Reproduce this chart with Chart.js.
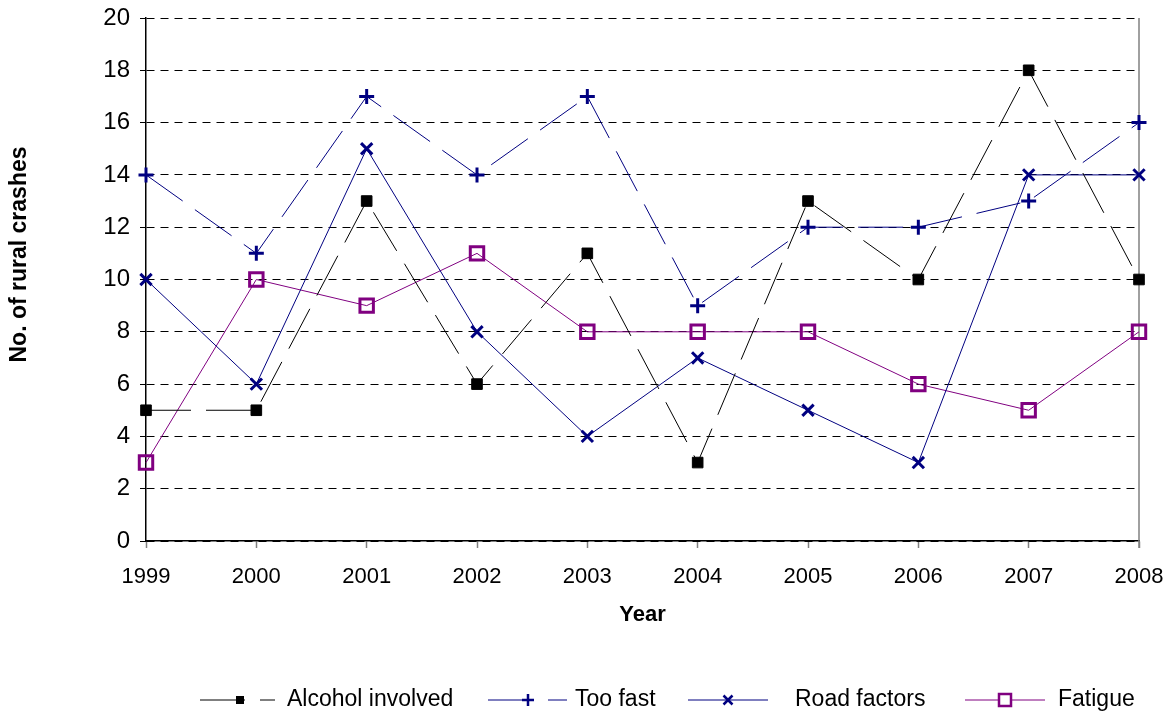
<!DOCTYPE html>
<html>
<head>
<meta charset="utf-8">
<script src="https://cdn.jsdelivr.net/npm/chart.js@4/dist/chart.umd.min.js"></script>
<style>
  html, body { margin: 0; padding: 0; background: #fff; }
  canvas { display: block; }
</style>
</head>
<body>
<canvas id="crashChart" width="1173" height="717"></canvas>
<script>
const years = ['1999', '2000', '2001', '2002', '2003', '2004', '2005', '2006', '2007', '2008'];
const alcohol = [5, 5, 13, 6, 11, 3, 13, 10, 18, 10];
const tooFast = [14, 11, 17, 14, 17, 9, 12, 12, 13, 16];
const roadFactors = [10, 6, 15, 8, 4, 7, 5, 3, 14, 14];
const fatigue = [3, 10, 9, 11, 8, 8, 8, 6, 5, 8];
const yTicks = [0, 2, 4, 6, 8, 10, 12, 14, 16, 18, 20];

const FONT = "'Liberation Sans', Arial, sans-serif";

// draws one marker, used for the hand made legend
function drawMarker(ctx, style, x, y, r, color, width) {
  ctx.save();
  ctx.strokeStyle = color;
  ctx.fillStyle = color;
  ctx.lineWidth = width;
  ctx.setLineDash([]);
  ctx.beginPath();
  if (style === 'rect') {
    ctx.rect(x - r, y - r, 2 * r, 2 * r);
    ctx.fill();
  } else if (style === 'openRect') {
    ctx.fillStyle = '#fff';
    ctx.rect(x - r, y - r, 2 * r, 2 * r);
    ctx.fill();
    ctx.stroke();
  } else if (style === 'cross') {
    ctx.moveTo(x - r, y); ctx.lineTo(x + r, y);
    ctx.moveTo(x, y - r); ctx.lineTo(x, y + r);
    ctx.stroke();
  } else if (style === 'crossRot') {
    ctx.moveTo(x - r, y - r); ctx.lineTo(x + r, y + r);
    ctx.moveTo(x - r, y + r); ctx.lineTo(x + r, y - r);
    ctx.stroke();
  }
  ctx.restore();
}

const legendItems = [
  { text: 'Alcohol involved', x: 200, len: 75, mx: 240, tx: 287, style: 'rect', r: 4, w: 1 },
  { text: 'Too fast', x: 488, len: 79, mx: 528, tx: 575, style: 'cross', r: 6, w: 2.5 },
  { text: 'Road factors', x: 688, len: 80, mx: 728, tx: 795, style: 'crossRot', r: 4.5, w: 2.5 },
  { text: 'Fatigue', x: 965, len: 80, mx: 1005, tx: 1058, style: 'openRect', r: 6, w: 2.5 }
];

const extras = {
  id: 'extras',
  beforeDatasetsDraw(chart) {
    const { ctx, chartArea } = chart;
    // grey right edge of plot
    ctx.save();
    ctx.strokeStyle = '#808080';
    ctx.lineWidth = 1.5;
    ctx.beginPath();
    ctx.moveTo(chartArea.right, chartArea.top);
    ctx.lineTo(chartArea.right, chartArea.bottom + 7);
    ctx.stroke();
    ctx.restore();
  },
  afterDraw(chart) {
    const { ctx, chartArea } = chart;
    // y axis title
    ctx.save();
    ctx.font = 'bold 23px ' + FONT;
    ctx.fillStyle = '#000';
    ctx.textAlign = 'center';
    ctx.textBaseline = 'middle';
    ctx.translate(20, (chartArea.top + chartArea.bottom) / 2 - 25);
    ctx.rotate(-Math.PI / 2);
    ctx.fillText('No. of rural crashes', 0, 0);
    ctx.restore();

    // legend
    const y = 700;
    legendItems.forEach((item, i) => {
      const ds = chart.data.datasets[i];
      ctx.save();
      ctx.strokeStyle = ds.borderColor;
      ctx.lineWidth = 1;
      ctx.setLineDash(ds.borderDash || []);
      ctx.beginPath();
      ctx.moveTo(item.x, y);
      ctx.lineTo(item.x + item.len, y);
      ctx.stroke();
      ctx.restore();
      drawMarker(ctx, item.style, item.mx, y, item.r, ds.pointBorderColor, item.w);
      ctx.save();
      ctx.font = '23px ' + FONT;
      ctx.fillStyle = '#000';
      ctx.textAlign = 'left';
      ctx.textBaseline = 'middle';
      ctx.fillText(item.text, item.tx, y);
      ctx.restore();
    });
  }
};

const data = {
  labels: years,
  datasets: [
    {
      label: 'Alcohol involved',
      data: alcohol,
      borderColor: '#000',
      borderWidth: 1,
      borderDash: [45, 15],
      pointStyle: 'rect',
      pointRadius: 7.5,
      pointBackgroundColor: '#000',
      pointBorderColor: '#000',
      pointBorderWidth: 1,
      tension: 0
    },
    {
      label: 'Too fast',
      data: tooFast,
      borderColor: '#000080',
      borderWidth: 1,
      borderDash: [45, 15],
      pointStyle: 'cross',
      pointRadius: 7.5,
      pointBorderColor: '#000080',
      pointBorderWidth: 3,
      tension: 0
    },
    {
      label: 'Road factors',
      data: roadFactors,
      borderColor: '#000080',
      borderWidth: 1,
      pointStyle: 'crossRot',
      pointRadius: 8,
      pointBorderColor: '#000080',
      pointBorderWidth: 3,
      tension: 0
    },
    {
      label: 'Fatigue',
      data: fatigue,
      borderColor: '#800080',
      borderWidth: 1,
      pointStyle: 'rect',
      pointRadius: 9.5,
      pointBackgroundColor: 'rgba(255,255,255,0)',
      pointBorderColor: '#800080',
      pointBorderWidth: 3,
      tension: 0
    }
  ]
};

const config = {
  type: 'line',
  data: data,
  options: {
    responsive: false,
    animation: false,
    layout: { padding: { left: 0, top: 18, right: 34, bottom: 81 } },
    plugins: {
      legend: { display: false },
      tooltip: { enabled: false }
    },
    scales: {
      x: {
        offset: false,
        grid: {
          drawOnChartArea: false,
          tickLength: 7,
          tickColor: '#808080',
          tickWidth: 1.5
        },
        border: { color: '#000', width: 1.5 },
        ticks: {
          color: '#000',
          padding: 16,
          maxRotation: 0,
          autoSkip: false,
          font: { family: FONT, size: 22 }
        },
        title: {
          display: true,
          text: 'Year',
          color: '#000',
          padding: { top: 10, bottom: 8 },
          font: { family: FONT, size: 22, weight: 'bold' }
        },
        afterFit(scale) {
          scale.height = 95;
          scale.paddingLeft = 0;
          scale.paddingRight = 0;
        }
      },
      y: {
        min: 0,
        max: 20,
        afterBuildTicks(scale) { scale.ticks = yTicks.map(v => ({ value: v })); },
        grid: {
          color: '#000',
          lineWidth: 1,
          tickLength: 6,
          tickColor: '#000',
          tickWidth: 1,
          tickBorderDash: []
        },
        border: { color: '#000', width: 1.5, dash: [8, 6] },
        ticks: {
          color: '#000',
          padding: 10,
          font: { family: FONT, size: 24 }
        },
        afterFit(scale) {
          scale.width = 146;
          scale.paddingTop = 0;
          scale.paddingBottom = 0;
        }
      }
    }
  },
  plugins: [extras]
};

const crashChart = new Chart(document.getElementById('crashChart'), config);
</script>
</body>
</html>
